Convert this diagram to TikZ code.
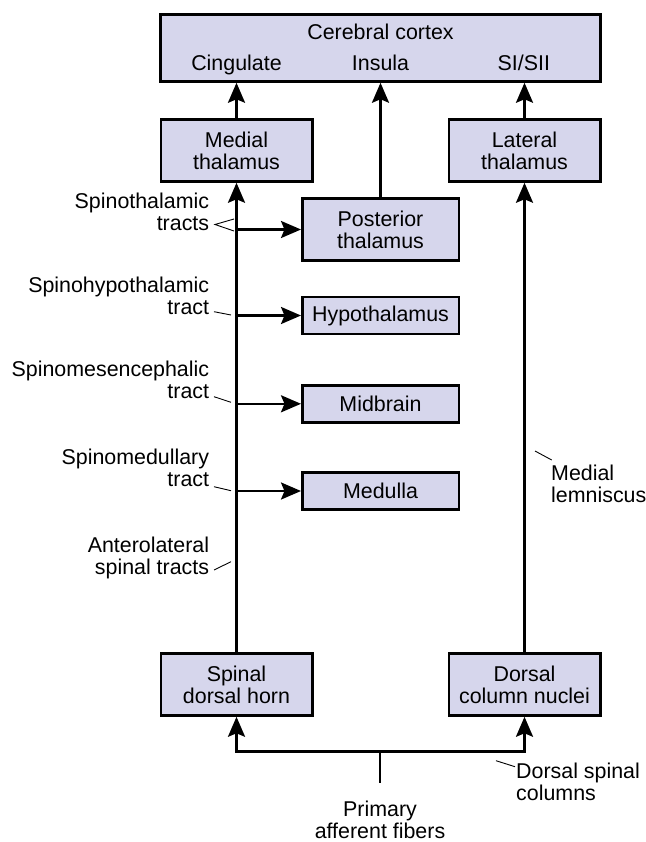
\documentclass[tikz,border=0pt]{standalone}
\usepackage{fontspec}
\setmainfont{Liberation Sans}
\usetikzlibrary{arrows.meta}

\definecolor{boxfill}{RGB}{214,214,236}

\tikzset{
  txt/.style={font=\fontsize{21.4}{22}\selectfont, inner sep=0pt},
  area/.style={draw, line width=2.5pt, fill=boxfill, align=center,
    inner sep=2pt, font=\fontsize{21.4}{22}\selectfont},
  tract/.style={draw, line width=2.5pt, -{Stealth[length=20pt,width=17pt,inset=3.5pt]}},
  leader/.style={draw, line width=0.9pt}
}

\begin{document}
\begin{tikzpicture}[x=1pt,y=-1pt]

      \useasboundingbox (0,0) rectangle (645,842);

      % boxes
      \begin{scope}[every node/.style={area}]
        \node[minimum width=440pt,minimum height=67pt] (cortex) at (380.5,48) {};
        \node[minimum width=151.5pt,minimum height=62pt] (medial)  at (236.5,150.5) {Medial\\thalamus};
        \node[minimum width=151.5pt,minimum height=62pt] (lateral) at (524.5,150.5) {Lateral\\thalamus};
        \node[minimum width=156.5pt,minimum height=62pt] (post)    at (380.5,229.5) {Posterior\\thalamus};
        \node[minimum width=156.5pt,minimum height=37pt] (hypo)    at (380.5,315.5) {Hypothalamus};
        \node[minimum width=156.5pt,minimum height=37pt] (mid)     at (380.5,403.8) {Midbrain};
        \node[minimum width=156.5pt,minimum height=37pt] (med)     at (380.5,491) {Medulla};
        \node[minimum width=151.5pt,minimum height=62pt] (horn)    at (236.5,684.5) {Spinal\\dorsal horn};
        \node[minimum width=151.5pt,minimum height=62pt] (dcn)     at (524.5,684.5) {Dorsal\\column nuclei};
      \end{scope}

      % cortex texts
      \begin{scope}[every node/.style={txt,anchor=base}]
        \node (cc)  at (380.5,39.3) {Cerebral cortex};
        \node (cin) at (236.5,71) {Cingulate};
        \node (ins) at (380.5,71) {Insula};
        \node (si)  at (523.8,71) {SI/SII};
      \end{scope}

      % side labels (base = last line)
      \begin{scope}[every node/.style={txt,align=right,anchor=base east}]
        \node (stt)  at (209.3,230) {Spinothalamic\\tracts};
        \node (sht)  at (209.3,314) {Spinohypothalamic\\tract};
        \node (smt)  at (209.3,398.3) {Spinomesencephalic\\tract};
        \node (smdt) at (209.3,486.7) {Spinomedullary\\tract};
        \node (alst) at (209.3,574) {Anterolateral\\spinal tracts};
      \end{scope}
      \begin{scope}[every node/.style={txt,align=left,anchor=base west}]
        \node (ml)  at (551,502.7) {Medial\\lemniscus};
        \node (dsc) at (516,800) {Dorsal spinal\\columns};
      \end{scope}
      \node[txt,align=center,anchor=base] (paf) at (380,838.5) {Primary\\afferent fibers};

      \coordinate (fork) at (380,751.7);
      \coordinate (root) at (380,782.7);

      % pathways
      \begin{scope}[every edge/.style={tract}]
        \path (medial)  edge (medial.north |- cortex.south);
        \path (post)    edge (post.north |- cortex.south);
        \path (lateral) edge (lateral.north |- cortex.south);
        \path (horn)    edge (medial);
        \path (dcn)     edge (lateral);
        \path (horn.north |- post.west) edge (post.west);
        \path (horn.north |- hypo.west) edge (hypo.west);
        \path (horn.north |- mid.west)  edge (mid.west);
        \path (horn.north |- med.west)  edge (med.west);
      \end{scope}
      \draw[line width=2.5pt] (root) -- (fork);
      \draw[tract] (fork) -| (horn.south);
      \draw[tract] (fork) -| (dcn.south);

      % leaders
      \draw[leader] (234,219) -- (215,224.5) -- (234,231);
      \draw[leader] (214,311.7) -- (231,315);
      \draw[leader] (214,396.7) -- (231,402.3);
      \draw[leader] (214,486.7) -- (231,490.7);
      \draw[leader] (214,570) -- (231,561.7);
      \draw[leader] (535,451) -- (551.7,460);
      \draw[leader] (496,760.7) -- (515,766.7);

    \end{tikzpicture}
\end{document}
